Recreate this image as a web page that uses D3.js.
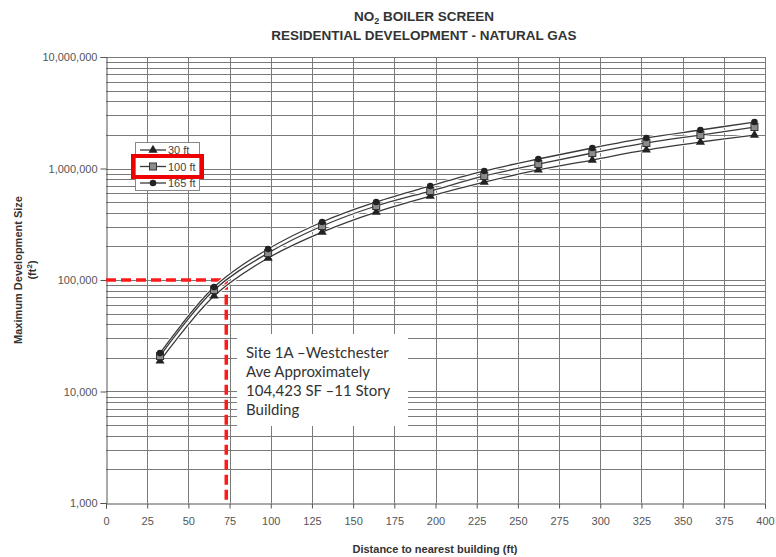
<!DOCTYPE html>
<html><head><meta charset="utf-8">
<script src="https://cdn.jsdelivr.net/npm/d3@7"></script>
<style>body{margin:0;background:#fff}svg{display:block}</style>
</head><body>
<svg id="c" width="776" height="557"></svg>
<script>
const distances = [32.8, 65.6, 98.4, 131.2, 164, 196.8, 229.6, 262.4, 295.2, 328, 360.8, 393.6];
const s30 = [18800, 71900, 157400, 269000, 407000, 566000, 756000, 970000, 1191000, 1466000, 1728000, 1996000];
const s100 = [20800, 81300, 174500, 305000, 461000, 628000, 857000, 1097000, 1377000, 1694000, 1996000, 2355000];
const s165 = [22100, 86500, 189700, 331400, 500800, 697000, 950000, 1217000, 1527000, 1878000, 2215000, 2611000];
const seriesNames = ["30 ft", "100 ft", "165 ft"];
const xTicks = [0,25,50,75,100,125,150,175,200,225,250,275,300,325,350,375,400];
const yTicks = [1000, 10000, 100000, 1000000, 10000000];
const siteDistance = 73;
const siteSize = 100000;
const noteLines = ["Site 1A \u2013Westchester", "Ave Approximately", "104,423 SF \u201311 Story", "Building"];

const svg = d3.select("#c");
const L = 106, R = 765, T = 57, B = 503;
const x = d3.scaleLinear().domain([0, 400]).range([L, R]);
const y = d3.scaleLog().domain([1000, 10000000]).range([B, T]);
const font = "'Liberation Sans', Arial, sans-serif";
const gridCol = "#7a7a7a";

// grid
const minor = [];
for (let e = 3; e < 7; e++) for (let m = 2; m <= 9; m++) minor.push(m * Math.pow(10, e));
const g = svg.append("g");
g.selectAll("line.h").data(minor.concat(yTicks.slice(1))).enter().append("line")
  .attr("x1", L).attr("x2", R).attr("y1", d => Math.round(y(d)) + 0.5).attr("y2", d => Math.round(y(d)) + 0.5)
  .attr("stroke", gridCol).attr("stroke-width", 1);
g.selectAll("line.v").data(xTicks.slice(1)).enter().append("line")
  .attr("y1", T).attr("y2", B).attr("x1", d => Math.round(x(d)) + 0.5).attr("x2", d => Math.round(x(d)) + 0.5)
  .attr("stroke", gridCol).attr("stroke-width", 1);

// axes
const yAxis = d3.axisLeft(y).tickValues(yTicks).tickFormat(d3.format(",")).tickSize(6).tickPadding(3);
const ya = svg.append("g").attr("transform", `translate(${L + 0.5},0)`).call(yAxis);
const xAxis = d3.axisBottom(x).tickValues(xTicks).tickFormat(d3.format("d")).tickSize(5).tickPadding(9);
const xa = svg.append("g").attr("transform", `translate(0,${B + 0.5})`).call(xAxis);
[ya, xa].forEach(a => {
  a.select(".domain").attr("stroke", "#555");
  a.selectAll(".tick line").attr("stroke", "#555");
  a.selectAll(".tick text").attr("fill", "#555").attr("font-family", font).attr("font-size", 11);
});

// note box
const bx = 237, by = 334, bw = 171, bh = 92;
svg.append("rect").attr("x", bx).attr("y", by).attr("width", bw).attr("height", bh).attr("fill", "#fff");
svg.append("g").selectAll("text").data(noteLines).enter().append("text")
  .attr("x", bx + 9).attr("y", (d, i) => by + 24 + i * 19)
  .attr("font-family", "Lato, 'Open Sans', sans-serif").attr("font-size", 15).attr("fill", "#333")
  .text(d => d);

// red dashed guide lines
svg.append("path")
  .attr("d", `M${L},${y(siteSize)}H${x(siteDistance)}V${B}`)
  .attr("fill", "none").attr("stroke", "#ff1a1a").attr("stroke-width", 3.5)
  .attr("stroke-dasharray", "10,5");

// series
const data = [s30, s100, s165];
const line = d3.line().x((d, i) => x(distances[i])).y(d => y(d)).curve(d3.curveCatmullRom.alpha(0.5));
const lineCol = "#3a3a3a";
data.forEach(s => {
  svg.append("path").attr("d", line(s)).attr("fill", "none").attr("stroke", "#fff").attr("stroke-width", 3.2);
});
data.forEach(s => {
  svg.append("path").attr("d", line(s)).attr("fill", "none").attr("stroke", lineCol).attr("stroke-width", 1.3);
});
function marker(gg, type) {
  if (type === 0) gg.append("path").attr("d", d3.symbol(d3.symbolTriangle, 36)()).attr("fill", "#222");
  else if (type === 1) gg.append("rect").attr("x", -3.5).attr("y", -3.5).attr("width", 7).attr("height", 7).attr("fill", "#8c8c8c").attr("stroke", "#333").attr("stroke-width", 1);
  else gg.append("path").attr("d", d3.symbol(d3.symbolCircle, 34)()).attr("fill", "#222");
}
data.forEach((s, k) => {
  svg.append("g").selectAll("g").data(s).enter().append("g")
    .attr("transform", (d, i) => `translate(${x(distances[i])},${y(d)})`)
    .each(function() { marker(d3.select(this), k); });
});

// legend
const lg = svg.append("g");
lg.append("rect").attr("x", 135.5).attr("y", 142.5).attr("width", 64).attr("height", 48).attr("fill", "#fff").attr("stroke", "#888");
seriesNames.forEach((n, k) => {
  const ly = 150 + k * 16.5;
  lg.append("line").attr("x1", 140).attr("x2", 166).attr("y1", ly).attr("y2", ly).attr("stroke", lineCol).attr("stroke-width", 1.3);
  marker(lg.append("g").attr("transform", `translate(153,${ly})`), k);
  lg.append("text").attr("x", 168).attr("y", ly + 4).attr("font-family", font).attr("font-size", 11).attr("fill", "#444").text(n);
});
lg.append("rect").attr("x", 133).attr("y", 156).attr("width", 69).attr("height", 21).attr("fill", "none").attr("stroke", "#ee0000").attr("stroke-width", 4);

// titles
const t = svg.append("text").attr("x", 424).attr("y", 21).attr("text-anchor", "middle")
  .attr("font-family", font).attr("font-size", 13.5).attr("font-weight", "bold").attr("fill", "#333");
t.append("tspan").text("NO");
t.append("tspan").attr("font-size", 9).attr("dy", 3).text("2");
t.append("tspan").attr("dy", -3).text(" BOILER SCREEN");
svg.append("text").attr("x", 424).attr("y", 40).attr("text-anchor", "middle")
  .attr("font-family", font).attr("font-size", 13.5).attr("font-weight", "bold").attr("fill", "#333")
  .text("RESIDENTIAL DEVELOPMENT - NATURAL GAS");

svg.append("text").attr("x", 435).attr("y", 553).attr("text-anchor", "middle")
  .attr("font-family", font).attr("font-size", 11).attr("font-weight", "bold").attr("fill", "#333")
  .text("Distance to nearest building (ft)");

const yl = svg.append("g").attr("transform", "translate(22,270) rotate(-90)");
yl.append("text").attr("text-anchor", "middle").attr("font-family", font).attr("font-size", 11)
  .attr("font-weight", "bold").attr("fill", "#333").text("Maximum Development Size");
const yl2 = yl.append("text").attr("y", 14).attr("text-anchor", "middle").attr("font-family", font).attr("font-size", 11)
  .attr("font-weight", "bold").attr("fill", "#333");
yl2.append("tspan").text("(ft");
yl2.append("tspan").attr("font-size", 8).attr("dy", -4).text("2");
yl2.append("tspan").attr("dy", 4).text(")");
</script>
</body></html>
